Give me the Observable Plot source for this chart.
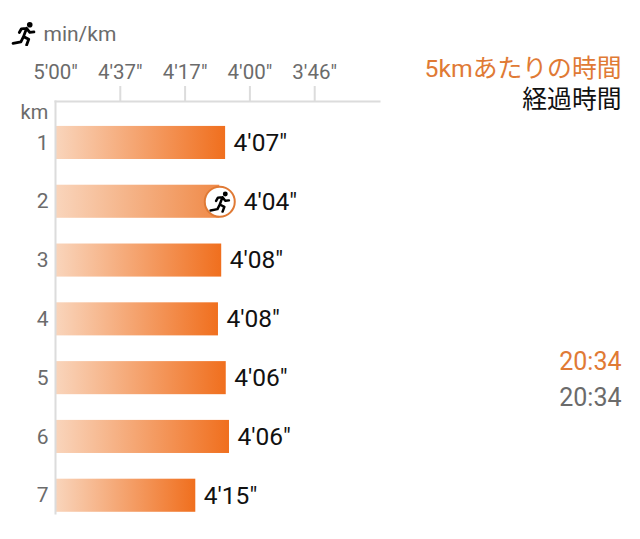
<!DOCTYPE html>
<html><head><meta charset="utf-8">
<script src="https://cdn.jsdelivr.net/npm/d3@7"></script>
<script src="https://cdn.jsdelivr.net/npm/@observablehq/plot@0.6"></script>
<style>html,body{margin:0;padding:0;background:#fff}svg{display:block}</style>
</head><body><div id="chart"></div>
<script>
const km = ["1","2","3","4","5","6","7"];
const speeds = [14.625, 14.535, 14.565, 14.515, 14.635, 14.685, 14.165];
const paceLabels = ["4'07\"","4'04\"","4'08\"","4'08\"","4'06\"","4'06\"","4'15\""];
const axisSpeeds = [12, 13, 14, 15, 16];
const axisLabels = ["5'00\"","4'37\"","4'17\"","4'00\"","3'46\""];
const runnerKm = "2";
const rows = km.map((k, i) => ({km: k, speed: speeds[i], label: paceLabels[i]}));
const plainRows = rows.filter(d => d.km !== runnerKm);
const runnerRows = rows.filter(d => d.km === runnerKm);

const iconSrc = "data:image/svg+xml;utf8," + encodeURIComponent(`<svg xmlns="http://www.w3.org/2000/svg" viewBox="0 0 24 24"><circle cx="18" cy="3.6" r="2.7" fill="#000"/><path d="M8 11l2-3.5 5-.5 3 4 4-.5M15 7l-3 8 5 2.5-2 5.5M12 15l-2.5 5L2 21.5" fill="none" stroke="#000" stroke-width="2.7" stroke-linejoin="round" stroke-linecap="round"/></svg>`);

const sans = "Roboto, 'Noto Sans CJK JP', sans-serif";
const gray = "#6b6b6b";
const lineGray = "#dcdcdc";
const orange = "#e07a35";

function gradients() {
  const svg = d3.create("svg:g");
  const defs = svg.append("defs");
  [["barGrad", "#f06f1e"], ["runnerGrad", "#f08a48"]].forEach(([id, end]) => {
    const g = defs.append("linearGradient").attr("id", id);
    g.append("stop").attr("offset", "0").attr("stop-color", "#f9d5bc");
    g.append("stop").attr("offset", "1").attr("stop-color", end);
  });
  return svg.node();
}

const chart = Plot.plot({
  width: 640, height: 539,
  marginLeft: 55, marginRight: 261, marginTop: 101, marginBottom: 26,
  style: {fontFamily: sans, background: "#fff"},
  x: {domain: [12, 17], axis: null},
  y: {domain: km, range: [100.2, 537.5], padding: 0.4375, round: false, axis: null},
  marks: [
    gradients,
    Plot.barX(plainRows, {x1: 12, x2: "speed", y: "km", fill: "url(#barGrad)"}),
    Plot.barX(runnerRows, {x1: 12, x2: "speed", y: "km", fill: "url(#runnerGrad)"}),
    Plot.frame({anchor: "top", stroke: lineGray, strokeWidth: 2, strokeOpacity: 1}),
    Plot.frame({anchor: "left", stroke: lineGray, strokeWidth: 2, strokeOpacity: 1}),
    Plot.axisX({anchor: "top", ticks: axisSpeeds.slice(1), tickSize: 16, stroke: lineGray, strokeWidth: 2, strokeOpacity: 1, label: null, text: null}),
    Plot.text(axisSpeeds, {x: d => d, text: (d, i) => axisLabels[i], frameAnchor: "top", dy: -37, fontSize: 20.5, fill: gray}),
    Plot.axisY({anchor: "left", tickSize: 0, tickPadding: 7, fontSize: 21, color: gray, label: null}),
    Plot.dot(runnerRows, {x: "speed", y: "km", r: 15, fill: "#fff", stroke: orange, strokeWidth: 2}),
    Plot.image(runnerRows, {x: "speed", y: "km", src: () => iconSrc, width: 22, height: 22}),
    Plot.text(plainRows, {x: "speed", y: "km", text: "label", textAnchor: "start", dx: 8, fontSize: 24.5, fill: "#111"}),
    Plot.text(runnerRows, {x: "speed", y: "km", text: "label", textAnchor: "start", dx: 24, fontSize: 24.5, fill: "#111"}),
    Plot.text(["km"], {frameAnchor: "top-left", dx: -35, dy: 3, textAnchor: "start", fontSize: 20, fill: gray}),
    Plot.text(["min/km"], {frameAnchor: "top-left", dx: -12, dy: -75, textAnchor: "start", fontSize: 21, fill: gray}),
    Plot.image([iconSrc], {frameAnchor: "top-left", src: d => d, width: 25, height: 25, dx: -32, dy: -68}),
    Plot.text(["5kmあたりの時間"], {frameAnchor: "top-right", dx: 242, dy: -42, textAnchor: "end", fontSize: 24.8, fill: orange}),
    Plot.text(["経過時間"], {frameAnchor: "top-right", dx: 242, dy: -11, textAnchor: "end", fontSize: 24.8, fill: "#111"}),
    Plot.text(["20:34"], {frameAnchor: "top-right", dx: 242, dy: 251, textAnchor: "end", fontSize: 25, fill: orange}),
    Plot.text(["20:34"], {frameAnchor: "top-right", dx: 242, dy: 287, textAnchor: "end", fontSize: 25, fill: gray})
  ]
});
document.getElementById("chart").appendChild(chart);
</script></body></html>
